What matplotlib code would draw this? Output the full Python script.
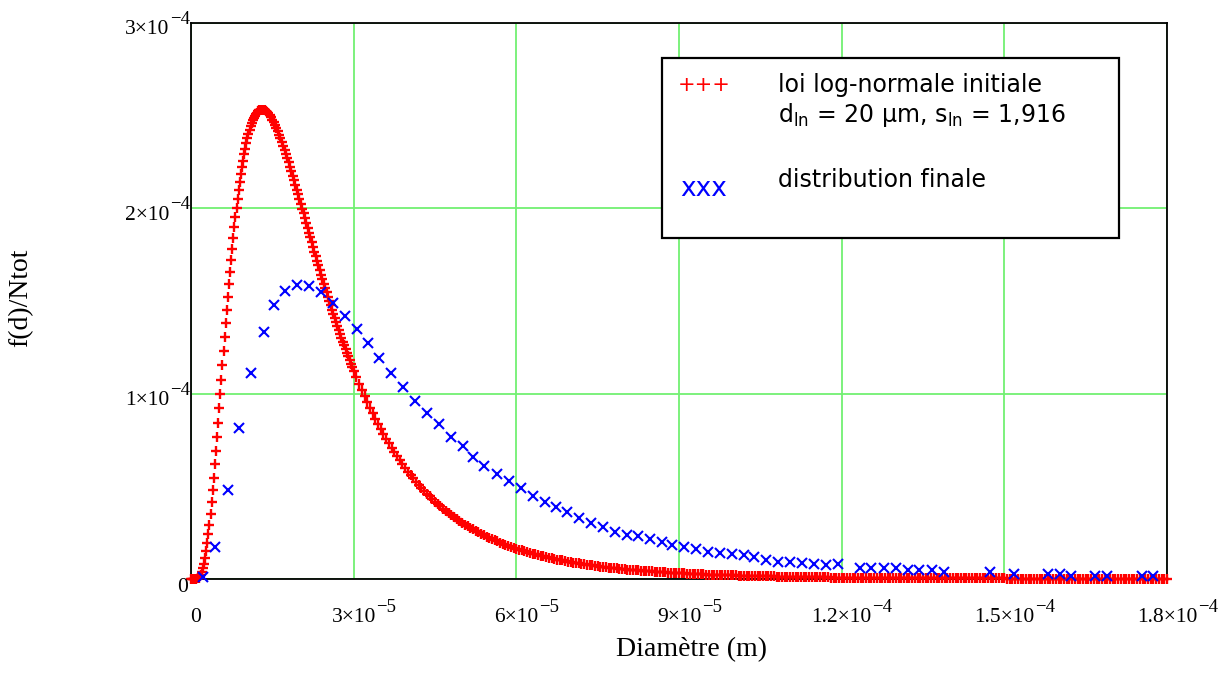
import matplotlib
matplotlib.use("Agg")
import matplotlib.pyplot as plt
import numpy as np
from matplotlib.transforms import blended_transform_factory, ScaledTranslation
import matplotlib.patches as mpatches

# ---------------- data (d in micrometres, f/Ntot in units of 1e-4) ----------------
# initial log-normal law (red "+")
red_d_um_a = [0.0, 0.2, 0.4, 0.6, 0.8, 1.0, 1.2, 1.4, 1.6, 1.8,
              2.0, 2.2, 2.4, 2.6, 2.8, 3.0, 3.2, 3.4, 3.6, 3.8,
              4.0, 4.2, 4.4, 4.6, 4.8, 5.0, 5.2, 5.4, 5.6, 5.8,
              6.0, 6.2, 6.4, 6.6, 6.8, 7.0, 7.2, 7.4, 7.6, 7.8,
              8.0, 8.2, 8.4, 8.6, 8.8, 9.0, 9.2, 9.4, 9.6, 9.8,
              10.0, 10.2, 10.4, 10.6, 10.8, 11.0, 11.2, 11.4, 11.6, 11.8,
              12.0, 12.2, 12.4, 12.6, 12.8, 13.0, 13.2, 13.4, 13.6, 13.8,
              14.0]
red_f_a = [0.0, 0.0, 0.0, 0.0, 0.0002, 0.0010, 0.0029, 0.0068, 0.0135, 0.0238,
           0.0386, 0.0585, 0.0836, 0.114, 0.151, 0.193, 0.241, 0.293, 0.351, 0.413,
           0.478, 0.547, 0.618, 0.692, 0.767, 0.844, 0.921, 0.998, 1.076, 1.153,
           1.229, 1.305, 1.379, 1.451, 1.521, 1.590, 1.656, 1.720, 1.781, 1.841,
           1.898, 1.952, 2.003, 2.052, 2.099, 2.142, 2.183, 2.222, 2.258, 2.291,
           2.322, 2.351, 2.377, 2.401, 2.422, 2.442, 2.459, 2.474, 2.488, 2.500,
           2.509, 2.517, 2.523, 2.528, 2.531, 2.532, 2.532, 2.531, 2.528, 2.524,
           2.520]

red_d_um_b = [14.25, 14.5, 14.75, 15.0, 15.25, 15.5, 15.75, 16.0,
              16.25, 16.5, 16.75, 17.0, 17.25, 17.5, 17.75, 18.0,
              18.25, 18.5, 18.75, 19.0, 19.25, 19.5, 19.75, 20.0,
              20.25, 20.5, 20.75, 21.0, 21.25, 21.5, 21.75, 22.0,
              22.25, 22.5, 22.75, 23.0, 23.25, 23.5, 23.75, 24.0,
              24.25, 24.5, 24.75, 25.0, 25.25, 25.5, 25.75, 26.0,
              26.25, 26.5, 26.75, 27.0, 27.25, 27.5, 27.75, 28.0,
              28.25, 28.5, 28.75, 29.0, 29.25, 29.5, 29.75, 30.0]
red_f_b = [2.512, 2.502, 2.491, 2.478, 2.464, 2.449, 2.433, 2.416,
           2.398, 2.379, 2.358, 2.338, 2.316, 2.294, 2.271, 2.248,
           2.224, 2.200, 2.176, 2.151, 2.126, 2.101, 2.076, 2.050,
           2.024, 1.999, 1.973, 1.947, 1.921, 1.895, 1.869, 1.844,
           1.818, 1.793, 1.767, 1.742, 1.717, 1.692, 1.667, 1.642,
           1.618, 1.594, 1.570, 1.546, 1.523, 1.499, 1.476, 1.454,
           1.431, 1.409, 1.387, 1.365, 1.343, 1.322, 1.301, 1.281,
           1.260, 1.240, 1.220, 1.201, 1.181, 1.162, 1.144, 1.124]

red_d_um_c = [30.5, 31.0, 31.5, 32.0, 32.5, 33.0, 33.5, 34.0, 34.5, 35.0,
              35.5, 36.0, 36.5, 37.0, 37.5, 38.0, 38.5, 39.0, 39.5, 40.0,
              40.5, 41.0, 41.5, 42.0, 42.5, 43.0, 43.5, 44.0, 44.5, 45.0,
              45.5, 46.0, 46.5, 47.0, 47.5, 48.0, 48.5, 49.0, 49.5, 50.0,
              50.5, 51.0, 51.5, 52.0, 52.5, 53.0, 53.5, 54.0, 54.5, 55.0,
              55.5, 56.0, 56.5, 57.0, 57.5, 58.0, 58.5, 59.0, 59.5, 60.0,
              60.5, 61.0, 61.5, 62.0, 62.5, 63.0, 63.5, 64.0, 64.5, 65.0,
              65.5, 66.0, 66.5, 67.0, 67.5, 68.0, 68.5, 69.0, 69.5, 70.0,
              70.5, 71.0, 71.5, 72.0, 72.5, 73.0, 73.5, 74.0, 74.5, 75.0,
              75.5, 76.0, 76.5, 77.0, 77.5, 78.0, 78.5, 79.0, 79.5, 80.0]
red_f_c = [1.089, 1.054, 1.020, 0.987, 0.954, 0.923, 0.893, 0.864, 0.836, 0.809,
           0.782, 0.757, 0.732, 0.708, 0.685, 0.663, 0.641, 0.620, 0.600, 0.580,
           0.562, 0.544, 0.526, 0.509, 0.493, 0.477, 0.461, 0.447, 0.432, 0.418,
           0.405, 0.392, 0.380, 0.368, 0.356, 0.345, 0.334, 0.324, 0.313, 0.304,
           0.294, 0.285, 0.276, 0.268, 0.259, 0.251, 0.244, 0.236, 0.229, 0.222,
           0.215, 0.209, 0.203, 0.196, 0.191, 0.185, 0.179, 0.174, 0.169, 0.164,
           0.159, 0.154, 0.150, 0.145, 0.141, 0.137, 0.133, 0.129, 0.126, 0.122,
           0.118, 0.115, 0.112, 0.109, 0.105, 0.102, 0.100, 0.097, 0.094, 0.091,
           0.089, 0.086, 0.084, 0.082, 0.079, 0.077, 0.075, 0.073, 0.071, 0.069,
           0.067, 0.065, 0.064, 0.062, 0.060, 0.059, 0.057, 0.056, 0.054, 0.053]

red_d_um_d = [80.5, 81.0, 81.5, 82.0, 82.5, 83.0, 83.5, 84.0, 84.5, 85.0,
              85.5, 86.0, 86.5, 87.0, 87.5, 88.0, 88.5, 89.0, 89.5, 90.0,
              90.5, 91.0, 91.5, 92.0, 92.5, 93.0, 93.5, 94.0, 94.5, 95.0,
              95.5, 96.0, 96.5, 97.0, 97.5, 98.0, 98.5, 99.0, 99.5, 100.0,
              100.5, 101.0, 101.5, 102.0, 102.5, 103.0, 103.5, 104.0, 104.5, 105.0,
              105.5, 106.0, 106.5, 107.0, 107.5, 108.0, 108.5, 109.0, 109.5, 110.0,
              110.5, 111.0, 111.5, 112.0, 112.5, 113.0, 113.5, 114.0, 114.5, 115.0,
              115.5, 116.0, 116.5, 117.0, 117.5, 118.0, 118.5, 119.0, 119.5, 120.0,
              120.5, 121.0, 121.5, 122.0, 122.5, 123.0, 123.5, 124.0, 124.5, 125.0,
              125.5, 126.0, 126.5, 127.0, 127.5, 128.0, 128.5, 129.0, 129.5, 130.0]
red_f_d = [0.051, 0.050, 0.049, 0.047, 0.046, 0.045, 0.044, 0.043, 0.042, 0.041,
           0.039, 0.038, 0.038, 0.037, 0.036, 0.035, 0.034, 0.033, 0.032, 0.031,
           0.031, 0.030, 0.029, 0.028, 0.028, 0.027, 0.026, 0.026, 0.025, 0.024,
           0.024, 0.023, 0.023, 0.022, 0.022, 0.021, 0.021, 0.020, 0.020, 0.019,
           0.019, 0.018, 0.018, 0.017, 0.017, 0.017, 0.016, 0.016, 0.016, 0.015,
           0.015, 0.014, 0.014, 0.014, 0.014, 0.013, 0.013, 0.013, 0.013, 0.012,
           0.012, 0.011, 0.011, 0.011, 0.011, 0.010, 0.010, 0.010, 0.010, 0.010,
           0.009, 0.009, 0.009, 0.009, 0.009, 0.008, 0.008, 0.008, 0.008, 0.008,
           0.007, 0.007, 0.007, 0.007, 0.007, 0.007, 0.007, 0.006, 0.006, 0.006,
           0.006, 0.006, 0.006, 0.006, 0.006, 0.005, 0.005, 0.005, 0.005, 0.005]

red_d_um_e = [130.5, 131.0, 131.5, 132.0, 132.5, 133.0, 133.5, 134.0, 134.5, 135.0,
              135.5, 136.0, 136.5, 137.0, 137.5, 138.0, 138.5, 139.0, 139.5, 140.0,
              140.5, 141.0, 141.5, 142.0, 142.5, 143.0, 143.5, 144.0, 144.5, 145.0,
              145.5, 146.0, 146.5, 147.0, 147.5, 148.0, 148.5, 149.0, 149.5, 150.0,
              150.5, 151.0, 151.5, 152.0, 152.5, 153.0, 153.5, 154.0, 154.5, 155.0,
              155.5, 156.0, 156.5, 157.0, 157.5, 158.0, 158.5, 159.0, 159.5, 160.0,
              160.5, 161.0, 161.5, 162.0, 162.5, 163.0, 163.5, 164.0, 164.5, 165.0,
              165.5, 166.0, 166.5, 167.0, 167.5, 168.0, 168.5, 169.0, 169.5, 170.0,
              170.5, 171.0, 171.5, 172.0, 172.5, 173.0, 173.5, 174.0, 174.5, 175.0,
              175.5, 176.0, 176.5, 177.0, 177.5, 178.0, 178.5, 179.0, 179.5, 180.0]
red_f_e = [0.005, 0.005, 0.005, 0.005, 0.004, 0.004, 0.004, 0.004, 0.004, 0.004,
           0.004, 0.004, 0.004, 0.004, 0.004, 0.004, 0.003, 0.003, 0.003, 0.003,
           0.003, 0.003, 0.003, 0.003, 0.003, 0.003, 0.003, 0.003, 0.003, 0.003,
           0.003, 0.003, 0.003, 0.003, 0.003, 0.003, 0.003, 0.003, 0.003, 0.003,
           0.002, 0.002, 0.002, 0.002, 0.002, 0.002, 0.002, 0.002, 0.002, 0.002,
           0.002, 0.002, 0.002, 0.002, 0.002, 0.002, 0.002, 0.002, 0.002, 0.002,
           0.001, 0.001, 0.001, 0.001, 0.001, 0.001, 0.001, 0.001, 0.001, 0.001,
           0.001, 0.001, 0.001, 0.001, 0.001, 0.001, 0.001, 0.001, 0.001, 0.001,
           0.001, 0.001, 0.001, 0.001, 0.001, 0.001, 0.001, 0.001, 0.001, 0.001,
           0.001, 0.001, 0.001, 0.001, 0.001, 0.001, 0.001, 0.001, 0.001, 0.001]

# final distribution (blue "x")
blue_d_um = [2.16, 4.5, 6.75, 8.9, 11.1, 13.4, 15.3, 17.4, 19.5, 21.7,
             23.9, 26.1, 28.4, 30.6, 32.6, 34.6, 36.8, 39.1, 41.3, 43.5,
             45.7, 47.9, 50.1, 52.0, 54.1, 56.4, 58.6, 60.8, 63.0, 65.3,
             67.4, 69.4, 71.6, 73.8, 75.9, 78.2, 80.4, 82.5, 84.7, 86.8,
             88.8, 90.9, 93.1, 95.4, 97.6, 99.7, 101.9, 103.8, 106.0, 108.2,
             110.5, 112.7, 114.9, 117.1, 119.3, 123.4, 125.5, 127.8, 130.0, 132.2,
             134.3, 136.6, 138.8, 147.3, 151.7, 158.1, 160.3, 162.3, 166.7, 168.9,
             175.3, 177.5]
blue_f = [0.013, 0.174, 0.478, 0.816, 1.113, 1.331, 1.480, 1.556, 1.586, 1.581,
          1.550, 1.491, 1.421, 1.349, 1.273, 1.192, 1.110, 1.034, 0.962, 0.894,
          0.835, 0.768, 0.718, 0.660, 0.612, 0.567, 0.529, 0.489, 0.449, 0.417,
          0.387, 0.360, 0.331, 0.304, 0.279, 0.255, 0.237, 0.232, 0.214, 0.201,
          0.183, 0.174, 0.160, 0.147, 0.142, 0.135, 0.130, 0.117, 0.103, 0.093,
          0.093, 0.088, 0.083, 0.077, 0.079, 0.061, 0.058, 0.058, 0.058, 0.049,
          0.049, 0.049, 0.040, 0.040, 0.025, 0.027, 0.027, 0.018, 0.018, 0.018,
          0.016, 0.016]

x_ticks = [0, 3e-5, 6e-5, 9e-5, 1.2e-4, 1.5e-4, 1.8e-4]
x_tick_base = ["0", "3×10", "6×10", "9×10", "1.2×10", "1.5×10", "1.8×10"]
x_tick_exp = ["", "\u22125", "\u22125", "\u22125", "\u22124", "\u22124", "\u22124"]
y_ticks = [0, 1e-4, 2e-4, 3e-4]
y_tick_base = ["0", "1×10", "2×10", "3×10"]
y_tick_exp = ["", "\u22124", "\u22124", "\u22124"]

legend_red = "loi log-normale initiale"
legend_red2 = r"d$_{\mathregular{ln}}$ = 20 µm, s$_{\mathregular{ln}}$ = 1,916"
legend_blue = "distribution finale"

# ---------------- figure ----------------
W, H = 1223, 688
fig = plt.figure(figsize=(W / 100, H / 100), dpi=100)
ax = fig.add_axes([191 / W, 1 - 579 / H, 976 / W, 556 / H])

red_d = np.concatenate([red_d_um_a, red_d_um_b, red_d_um_c, red_d_um_d, red_d_um_e]) * 1e-6
red_y = np.concatenate([red_f_a, red_f_b, red_f_c, red_f_d, red_f_e]) * 1e-4
blue_d = np.asarray(blue_d_um) * 1e-6
blue_y = np.asarray(blue_f) * 1e-4

ax.plot(red_d, red_y, linestyle="none", marker="+", markersize=7.4,
        markeredgewidth=1.7, color="#FF0000", zorder=3, clip_on=False)
ax.plot(blue_d, blue_y, linestyle="none", marker="x", markersize=7.4,
        markeredgewidth=1.5, color="#0000FF", zorder=4, clip_on=False)

ax.set_xlim(0, 1.8e-4)
ax.set_ylim(0, 3e-4)
ax.set_xticks(x_ticks)
ax.set_yticks(y_ticks)
ax.tick_params(length=0, labelbottom=False, labelleft=False)
ax.grid(True, color="#72F072", linewidth=1.3)
ax.set_axisbelow(True)
for s in ax.spines.values():
    s.set_color("black")
    s.set_linewidth(1.3)

serif = "Liberation Serif"
base_fs, exp_fs = 15.5, 13.5
renderer = fig.canvas.get_renderer()
px = fig.dpi_scale_trans


def off(dx, dy):
    return ScaledTranslation(dx / 100, dy / 100, px)


# x tick labels: base centred on the tick, exponent raised after it
tb = blended_transform_factory(ax.transData, ax.transAxes)
for v, base, ex in zip(x_ticks, x_tick_base, x_tick_exp):
    dx = 5 if not ex else 0
    t = ax.text(v, 0, base, transform=tb + off(dx, -43), ha="center",
                va="baseline", fontsize=base_fs, family=serif)
    if ex:
        bb = t.get_window_extent(renderer)
        ybase = (tb + off(0, -43)).transform((v, 0))[1]
        fig.text((bb.x1 + 0.5) / W, (ybase + 10) / H, ex, ha="left",
                 va="baseline", fontsize=exp_fs, family=serif)

# y tick labels: right aligned against the axis
tl = blended_transform_factory(ax.transAxes, ax.transData)
for v, base, ex in zip(y_ticks, y_tick_base, y_tick_exp):
    if not ex:
        ax.text(0, v, base, transform=tl + off(-3, -12.5), ha="right",
                va="baseline", fontsize=base_fs, family=serif)
        continue
    te = ax.text(0, v, ex, transform=tl + off(-1, -1), ha="right",
                 va="baseline", fontsize=exp_fs, family=serif)
    bb = te.get_window_extent(renderer)
    ybase = (tl + off(0, -11.5)).transform((0, v))[1]
    fig.text((bb.x0 - 0.5) / W, ybase / H, base, ha="right", va="baseline",
             fontsize=base_fs, family=serif)

fig.text(691 / W, 1 - 650 / H, "Diamètre (m)", ha="center", va="center",
         fontsize=20, family=serif)
fig.text(21 / W, 1 - 298 / H, "f(d)/Ntot", ha="center", va="center",
         rotation=90, fontsize=20, family=serif)

# legend box
box = mpatches.Rectangle((662 / W, 1 - 238 / H), (1119 - 662) / W, (238 - 58) / H,
                         transform=fig.transFigure, facecolor="white",
                         edgecolor="black", linewidth=1.6, zorder=10)
fig.patches.append(box)
sans = "DejaVu Sans"
fig.text(704 / W, 1 - 85 / H, "+++", color="#FF0000", ha="center", va="center",
         fontsize=15, family=sans, zorder=11)
fig.text(704 / W, 1 - 196 / H, "xxx", color="#0000FF", ha="center", va="baseline",
         fontsize=19, family=sans, zorder=11)
fig.text(778 / W, 1 - 92 / H, legend_red, ha="left", va="baseline",
         fontsize=17, family=sans, zorder=11)
fig.text(778 / W, 1 - 122 / H, legend_red2, ha="left", va="baseline",
         fontsize=17, family=sans, zorder=11)
fig.text(778 / W, 1 - 187 / H, legend_blue, ha="left", va="baseline",
         fontsize=17, family=sans, zorder=11)

fig.savefig("out.png", dpi=100, facecolor="white")
